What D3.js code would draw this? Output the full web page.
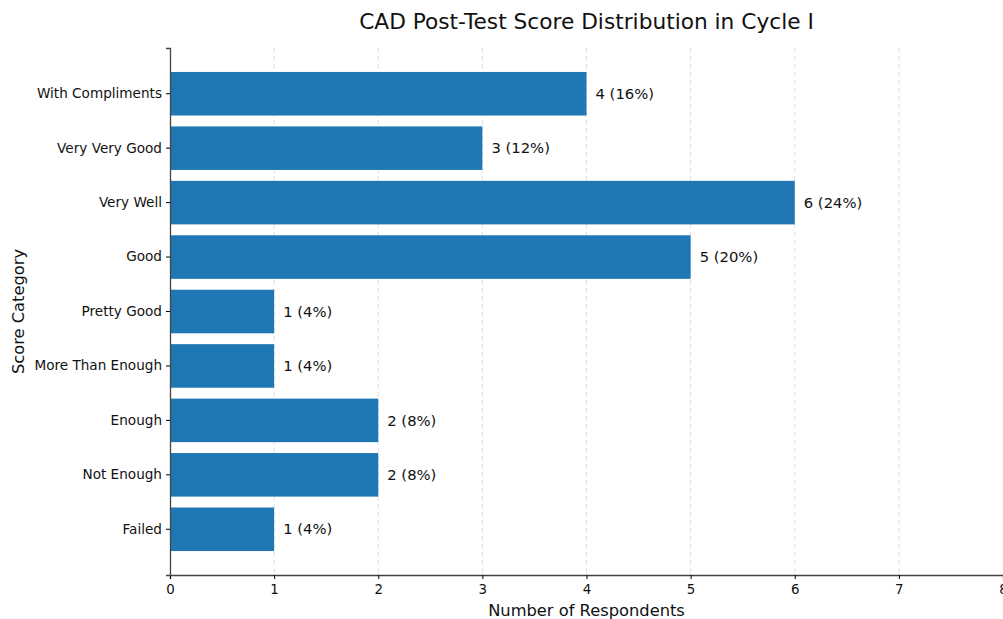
<!DOCTYPE html>
<html><head><meta charset="utf-8">
<script src="https://cdn.jsdelivr.net/npm/d3@7"></script>
<style>body{margin:0;background:#fff;font-family:"DejaVu Sans",sans-serif;}</style>
</head><body><svg id="c" width="1003" height="619"></svg>
<script>
const categories = ["With Compliments","Very Very Good","Very Well","Good","Pretty Good","More Than Enough","Enough","Not Enough","Failed"];
const counts = [4,3,6,5,1,1,2,2,1];
const percents = [16,12,24,20,4,4,8,8,4];
const xTicks = [0,1,2,3,4,5,6,7,8];

const svg = d3.select("#c");
const L=170, R=1003, T=48, B=575;
const x = d3.scaleLinear().domain([0,8]).range([L,R]);
const y = d3.scaleBand().domain(categories).range([T,B]).paddingInner(0.2).paddingOuter(0.44);

// grid
svg.append("g").selectAll("line").data(xTicks.filter(d=>d>0&&d<8)).join("line")
 .attr("x1",d=>x(d)).attr("x2",d=>x(d)).attr("y1",T).attr("y2",B)
 .attr("stroke","#dddddd").attr("stroke-dasharray","5,3").attr("stroke-width",0.9);

svg.append("g").selectAll("rect").data(categories).join("rect")
 .attr("x",x(0)).attr("y",d=>y(d)).attr("height",y.bandwidth())
 .attr("width",(d,i)=>x(counts[i])-x(0)).attr("fill","#1f77b4");

svg.append("g").selectAll("text").data(categories).join("text")
 .attr("x",(d,i)=>x(counts[i])+9).attr("y",d=>y(d)+y.bandwidth()/2).attr("dy","0.35em")
 .attr("font-size",14.8).attr("fill","#111")
 .text((d,i)=>`${counts[i]} (${percents[i]}%)`);

const xa = svg.append("g").attr("transform",`translate(0,${B})`)
 .call(d3.axisBottom(x).tickValues(xTicks).tickFormat(d3.format("d")).tickSize(4).tickPadding(5));
xa.select(".domain").attr("stroke","#444").attr("stroke-width",1.3);
xa.selectAll("text").attr("font-size",13.4).attr("font-family","DejaVu Sans").attr("fill","#111");

const ya = svg.append("g").attr("transform",`translate(${L},0)`)
 .call(d3.axisLeft(y).tickSize(4).tickPadding(4));
ya.select(".domain").attr("stroke","#444").attr("stroke-width",1.3);
ya.selectAll("text").attr("font-size",13.6).attr("font-family","DejaVu Sans").attr("fill","#111");

svg.append("text").attr("x",(L+R)/2).attr("y",29).attr("text-anchor","middle")
 .attr("font-size",21.7).attr("fill","#111").text("CAD Post-Test Score Distribution in Cycle I");
svg.append("text").attr("x",(L+R)/2).attr("y",616).attr("text-anchor","middle")
 .attr("font-size",16.3).attr("fill","#111").text("Number of Respondents");
svg.append("text").attr("transform",`translate(24,${(T+B)/2}) rotate(-90)`).attr("text-anchor","middle")
 .attr("font-size",16.3).attr("fill","#111").text("Score Category");
</script></body></html>
